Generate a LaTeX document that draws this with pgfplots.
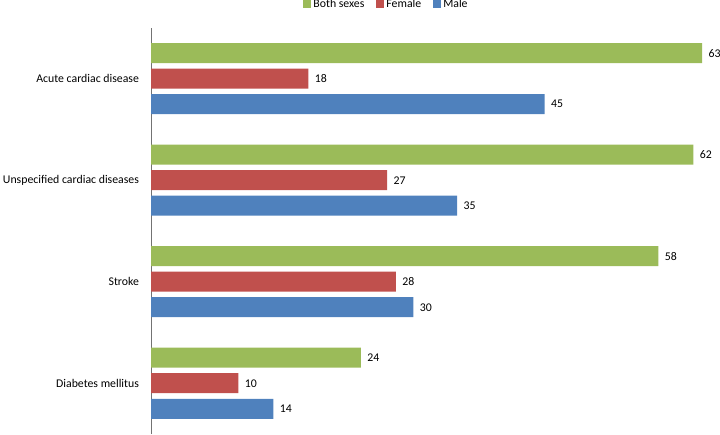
\documentclass[border=0pt]{standalone}
\usepackage{pgfplots}
\pgfplotsset{compat=1.18}
\usepackage{fontspec}
\setmainfont{Carlito}
\definecolor{cgreen}{HTML}{9BBB59}
\definecolor{cred}{HTML}{C0504D}
\definecolor{cblue}{HTML}{4F81BD}
\begin{document}
\begin{tikzpicture}[x=1pt,y=1pt]
\path[use as bounding box] (0,0) rectangle (720,434);
\begin{axis}[
  at={(151pt,0pt)}, anchor=south west,
  scale only axis, width=551pt, height=406pt,
  xmin=0, xmax=63, ymin=-0.5, ymax=3.5,
  xbar, bar width=20pt,
  axis x line=none,
  axis y line*=left,
  y axis line style={draw=gray!90!black, thin},
  ytick={0,1,2,3},
  yticklabels={Diabetes mellitus, Stroke, Unspecified cardiac diseases, Acute cardiac disease},
  major tick length=0pt,
  /pgf/number format/assume math mode=true,
  yticklabel style={font=\fontsize{11.8}{13}\selectfont, xshift=-8.5pt},
  nodes near coords,
  nodes near coords style={font=\fontsize{11.8}{13}\selectfont, xshift=3pt, /pgf/number format/assume math mode=true},
  legend columns=3,
  legend style={draw=none, at={(0.4265,1.059)}, anchor=center, font=\fontsize{11.8}{13}\selectfont,
    nodes={inner sep=1pt},
    /tikz/every odd column/.append style={column sep=1pt},
    /tikz/every even column/.append style={column sep=11pt}},
  legend image code/.code={\fill[#1] (0pt,-4pt) rectangle (8pt,4pt);},
]
\addplot[fill=cgreen, draw=none, bar shift=25.5pt] coordinates {(63,3) (62,2) (58,1) (24,0)};
\addplot[fill=cred, draw=none, bar shift=0pt] coordinates {(18,3) (27,2) (28,1) (10,0)};
\addplot[fill=cblue, draw=none, bar shift=-25.5pt] coordinates {(45,3) (35,2) (30,1) (14,0)};
\legend{Both sexes, Female, Male}
\end{axis}
\end{tikzpicture}
\end{document}
